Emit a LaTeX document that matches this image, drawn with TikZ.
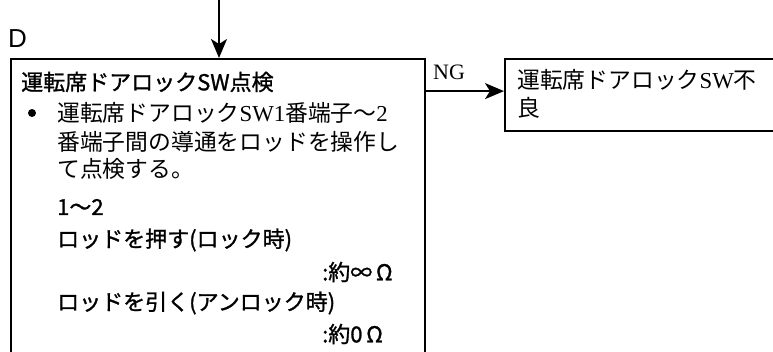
\documentclass[tikz,border=0pt]{standalone}
\usepackage{fontspec}
\setmainfont{Noto Sans CJK JP}
\newfontfamily\jpsans{Noto Sans CJK JP}
\newfontfamily\jpbold[FakeBold=1.2]{Noto Sans CJK JP}
\newfontfamily\latser{Liberation Serif}
\newfontfamily\latsans{Liberation Sans}
\usetikzlibrary{arrows.meta}
\begin{document}
\begin{tikzpicture}[x=1pt,y=-1pt,
  boxline/.style={draw=black,line width=2.2pt},
  flowarrow/.style={line width=1.8pt,-{Stealth[length=19pt,width=16pt,inset=5pt]}},
  txt/.style={anchor=west,inner sep=0pt,font=\fontsize{22}{26}\selectfont\jpbold},
  stxt/.style={anchor=west,inner sep=0pt,font=\fontsize{22.8}{26}\selectfont\jpsans},
]
\clip (0,0) rectangle (773,351);
% boxes
\node[boxline,minimum width=414pt,minimum height=312pt,anchor=north west,inner sep=0pt] (main) at (10,58) {};
\node[boxline,minimum width=290pt,minimum height=72pt,anchor=north west,inner sep=0pt] (ng) at (504,58) {};
% incoming arrow
\coordinate (topin) at (219,-2);
\draw[flowarrow] (topin) -- (topin |- main.north);
% NG arrow
\draw[flowarrow] ([yshift=4pt]ng.west -| main.east) -- ([yshift=4pt]ng.west);
\node[anchor=center,inner sep=0pt,font=\fontsize{22}{26}\selectfont\latser] (nglabel) at (449,72) {NG};
% D label
\node[anchor=west,inner sep=0pt,font=\fontsize{26}{30}\selectfont\latsans] (dlabel) at (8,39) {D};
% main box text
\node[txt] (l1) at (21,82) {運転席ドアロックSW点検};
\node[circle,fill=black,inner sep=0pt,minimum size=8pt] (bul) at (32,113) {};
\node[stxt] (l2) at (57,113) {運転席ドアロック{\latser SW1}番端子～{\latser 2}};
\node[stxt] (l3) at (57,142) {番端子間の導通をロッドを操作し};
\node[stxt] (l4) at (57,169) {て点検する。};
\node[txt] (l5) at (57,207) {1～2};
\node[txt] (l6) at (57,240) {ロッドを押す(ロック時)};
\node[txt] (l7) at (322,272) {:約∞\,Ω};
\node[txt] (l8) at (57,303) {ロッドを引く(アンロック時)};
\node[txt] (l9) at (322,334) {:約0\,Ω};
% NG box text
\node[stxt] (r1) at (517,80) {運転席ドアロック{\latser SW}不};
\node[stxt] (r2) at (517,108) {良};
\end{tikzpicture}
\end{document}
